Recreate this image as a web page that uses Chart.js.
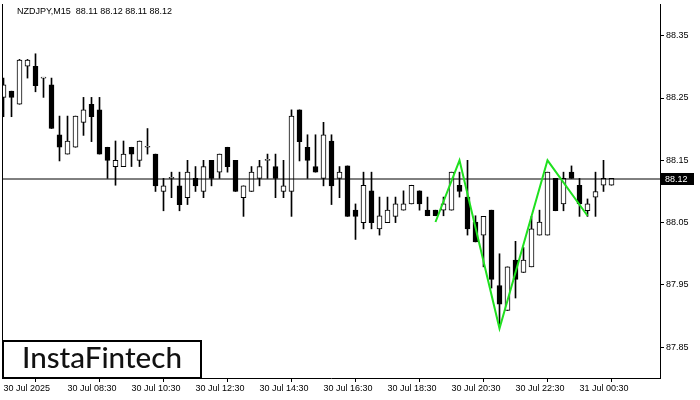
<!DOCTYPE html>
<html>
<head>
<meta charset="utf-8">
<script src="https://cdn.jsdelivr.net/npm/chart.js@4.4.1/dist/chart.umd.min.js"></script>
<style>
html,body{margin:0;padding:0;background:#fff;}
canvas{display:block;}
</style>
</head>
<body>
<canvas id="c" width="700" height="400"></canvas>
<script>
// ---- data (NZDJPY, M15) ----
const symbolTitle = "NZDJPY,M15  88.11 88.12 88.11 88.12";
const opens = [88.251,88.261,88.240,88.301,88.301,88.282,88.271,88.191,88.160,88.171,
  88.211,88.240,88.231,88.171,88.140,88.140,88.171,88.150,88.171,88.160,
  88.100,88.121,88.109,88.090,88.121,88.100,88.150,88.131,88.171,88.150,
  88.090,88.100,88.121,88.150,88.140,88.100,88.100,88.231,88.171,88.140,
  88.121,88.181,88.121,88.141,88.070,88.050,88.101,88.040,88.050,88.060,
  88.070,88.080,88.101,88.070,88.070,88.070,88.070,88.110,88.091,88.051,
  88.030,88.070,87.949,87.909,87.990,87.970,87.979,88.030,88.030,88.121,
  88.080,88.131,88.110,88.069,88.091,88.110,88.110];
const highs = [88.282,88.261,88.312,88.312,88.321,88.283,88.282,88.221,88.221,88.221,
  88.251,88.251,88.251,88.171,88.181,88.181,88.171,88.181,88.201,88.160,
  88.121,88.131,88.131,88.150,88.140,88.150,88.150,88.160,88.171,88.150,
  88.109,88.140,88.150,88.160,88.160,88.150,88.231,88.231,88.191,88.191,
  88.211,88.191,88.140,88.141,88.080,88.131,88.131,88.091,88.091,88.091,
  88.101,88.110,88.101,88.091,88.070,88.091,88.131,88.131,88.150,88.061,
  88.060,88.070,88.000,87.979,88.020,88.010,88.060,88.070,88.131,88.121,
  88.131,88.141,88.121,88.088,88.131,88.150,88.121];
const lows = [88.220,88.220,88.240,88.282,88.260,88.251,88.201,88.149,88.160,88.171,
  88.190,88.180,88.160,88.121,88.110,88.140,88.140,88.140,88.160,88.100,
  88.069,88.090,88.069,88.079,88.100,88.090,88.109,88.121,88.131,88.100,
  88.060,88.100,88.109,88.121,88.090,88.090,88.060,88.149,88.121,88.131,
  88.109,88.079,88.090,88.060,88.023,88.040,88.040,88.030,88.050,88.050,
  88.070,88.080,88.070,88.061,88.061,88.061,88.070,88.091,88.030,88.019,
  87.979,87.945,87.883,87.909,87.929,87.970,87.979,88.030,88.030,88.069,
  88.069,88.121,88.060,88.060,88.060,88.100,88.110];
const closes = [88.271,88.251,88.311,88.311,88.270,88.282,88.201,88.171,88.181,88.221,
  88.231,88.220,88.160,88.150,88.150,88.160,88.160,88.181,88.171,88.109,
  88.109,88.121,88.079,88.131,88.109,88.140,88.121,88.160,88.140,88.100,
  88.109,88.131,88.140,88.150,88.121,88.109,88.221,88.180,88.150,88.131,
  88.191,88.109,88.131,88.060,88.060,88.110,88.050,88.061,88.070,88.080,
  88.080,88.110,88.080,88.061,88.061,88.080,88.131,88.100,88.040,88.019,
  88.060,87.959,87.919,87.979,87.959,87.990,88.040,88.051,88.131,88.069,
  88.121,88.121,88.080,88.080,88.100,88.121,88.121];
// x tick labels every 8 bars (2 hours)
const xTickBars = [0,8,16,24,32,40,48,56,64,72];
const xTickLabels = ["30 Jul 2025","30 Jul 08:30","30 Jul 10:30","30 Jul 12:30","30 Jul 14:30",
  "30 Jul 16:30","30 Jul 18:30","30 Jul 20:30","30 Jul 22:30","31 Jul 00:30"];
const yTicks = [87.85,87.95,88.05,88.15,88.25,88.35];
const currentPrice = 88.12;
// pattern polyline
const patternBars = [54,57,62,68,73];
const patternPrices = [88.051,88.150,87.880,88.150,88.061];

const X_MIN = -0.1875, X_MAX = 82.0625;
const Y_MIN = 87.8006, Y_MAX = 88.4009;
const FONT = '"Liberation Sans", Arial, sans-serif';

const wickData = lows.map((l,i)=>({x:i, y:[l, highs[i]]}));
const bodyData = opens.map((o,i)=>({x:i, y:[o, closes[i]]}));
const bodyColors = opens.map((o,i)=> closes[i] >= o ? '#ffffff' : '#000000');

const overlay = {
  id:'overlay',
  afterDatasetsDraw(chart){
    const ctx = chart.ctx, ca = chart.chartArea, ys = chart.scales.y;
    ctx.save();
    // left frame line
    ctx.fillStyle = '#000';
    ctx.fillRect(ca.left, ca.top, 1, ca.bottom - ca.top);
    // title
    ctx.font = '9px ' + FONT;
    ctx.textBaseline = 'alphabetic';
    ctx.textAlign = 'left';
    ctx.fillStyle = '#000';
    ctx.fillText(symbolTitle, 17, 14);
    // current price label
    const py = Math.round(ys.getPixelForValue(currentPrice));
    ctx.fillStyle = '#000';
    ctx.fillRect(661, py - 6, 33, 12);
    ctx.fillStyle = '#fff';
    ctx.textBaseline = 'middle';
    ctx.fillText(currentPrice.toFixed(2), 665, py + 0.5);
    // logo box
    ctx.fillStyle = '#fff';
    ctx.fillRect(3, 341, 198, 37);
    ctx.strokeStyle = '#000';
    ctx.lineWidth = 2;
    ctx.strokeRect(3, 341, 198, 37);
    ctx.fillStyle = '#111';
    ctx.textBaseline = 'alphabetic';
    let size = 26;
    ctx.font = '500 ' + size + 'px Lato, "Open Sans", sans-serif';
    const w = ctx.measureText('InstaFintech').width;
    size = size * 160 / w;
    ctx.font = '500 ' + size.toFixed(2) + 'px Lato, "Open Sans", sans-serif';
    ctx.fillText('InstaFintech', 22, 368);
    ctx.restore();
  }
};

new Chart(document.getElementById('c'), {
  type: 'bar',
  data: {
    datasets: [
      {
        type:'line', label:'pattern',
        data: patternBars.map((b,i)=>({x:b, y:patternPrices[i]})),
        borderColor:'#1fe01f', borderWidth:2, pointRadius:0, tension:0, order:0
      },
      {
        type:'line', label:'price',
        data: [{x:X_MIN, y:currentPrice},{x:X_MAX, y:currentPrice}],
        borderColor:'#000', borderWidth:1, pointRadius:0, order:1
      },
      {
        label:'body', data: bodyData,
        backgroundColor: bodyColors, borderColor:'#000', borderWidth:1,
        borderSkipped:false, barThickness:5, minBarLength:1, grouped:false, order:2
      },
      {
        label:'wick', data: wickData,
        backgroundColor:'#000', borderWidth:0, barThickness:1, grouped:false, order:3
      }
    ]
  },
  options: {
    responsive:false, animation:false, devicePixelRatio:1,
    layout:{padding:{top:4,left:2,right:0,bottom:0}},
    plugins:{legend:{display:false}, tooltip:{enabled:false}, title:{display:false}},
    scales:{
      x:{
        type:'linear', min:X_MIN, max:X_MAX, offset:false,
        afterFit(s){ s.height = 22; s.paddingLeft = 0; s.paddingRight = 0; },
        afterBuildTicks(s){ s.ticks = xTickBars.map(v=>({value:v})); },
        grid:{drawOnChartArea:false, drawTicks:true, tickLength:4, color:'#000'},
        border:{display:true, color:'#000', width:1},
        ticks:{
          align:'start', maxRotation:0, minRotation:0, autoSkip:false, padding:1,
          color:'#000', font:{family:FONT, size:9},
          callback(v){ const i = xTickBars.indexOf(v); return i>=0 ? xTickLabels[i] : ''; }
        }
      },
      y:{
        type:'linear', position:'right', min:Y_MIN, max:Y_MAX,
        afterFit(s){ s.width = 40; s.paddingTop = 0; s.paddingBottom = 0; },
        afterBuildTicks(s){ s.ticks = yTicks.map(v=>({value:v})); },
        grid:{drawOnChartArea:false, drawTicks:true, tickLength:4, color:'#000'},
        border:{display:true, color:'#000', width:1},
        ticks:{color:'#000', padding:2, font:{family:FONT, size:9},
          callback(v){ return Number(v).toFixed(2); }}
      }
    }
  },
  plugins:[overlay]
});
</script>
</body>
</html>
